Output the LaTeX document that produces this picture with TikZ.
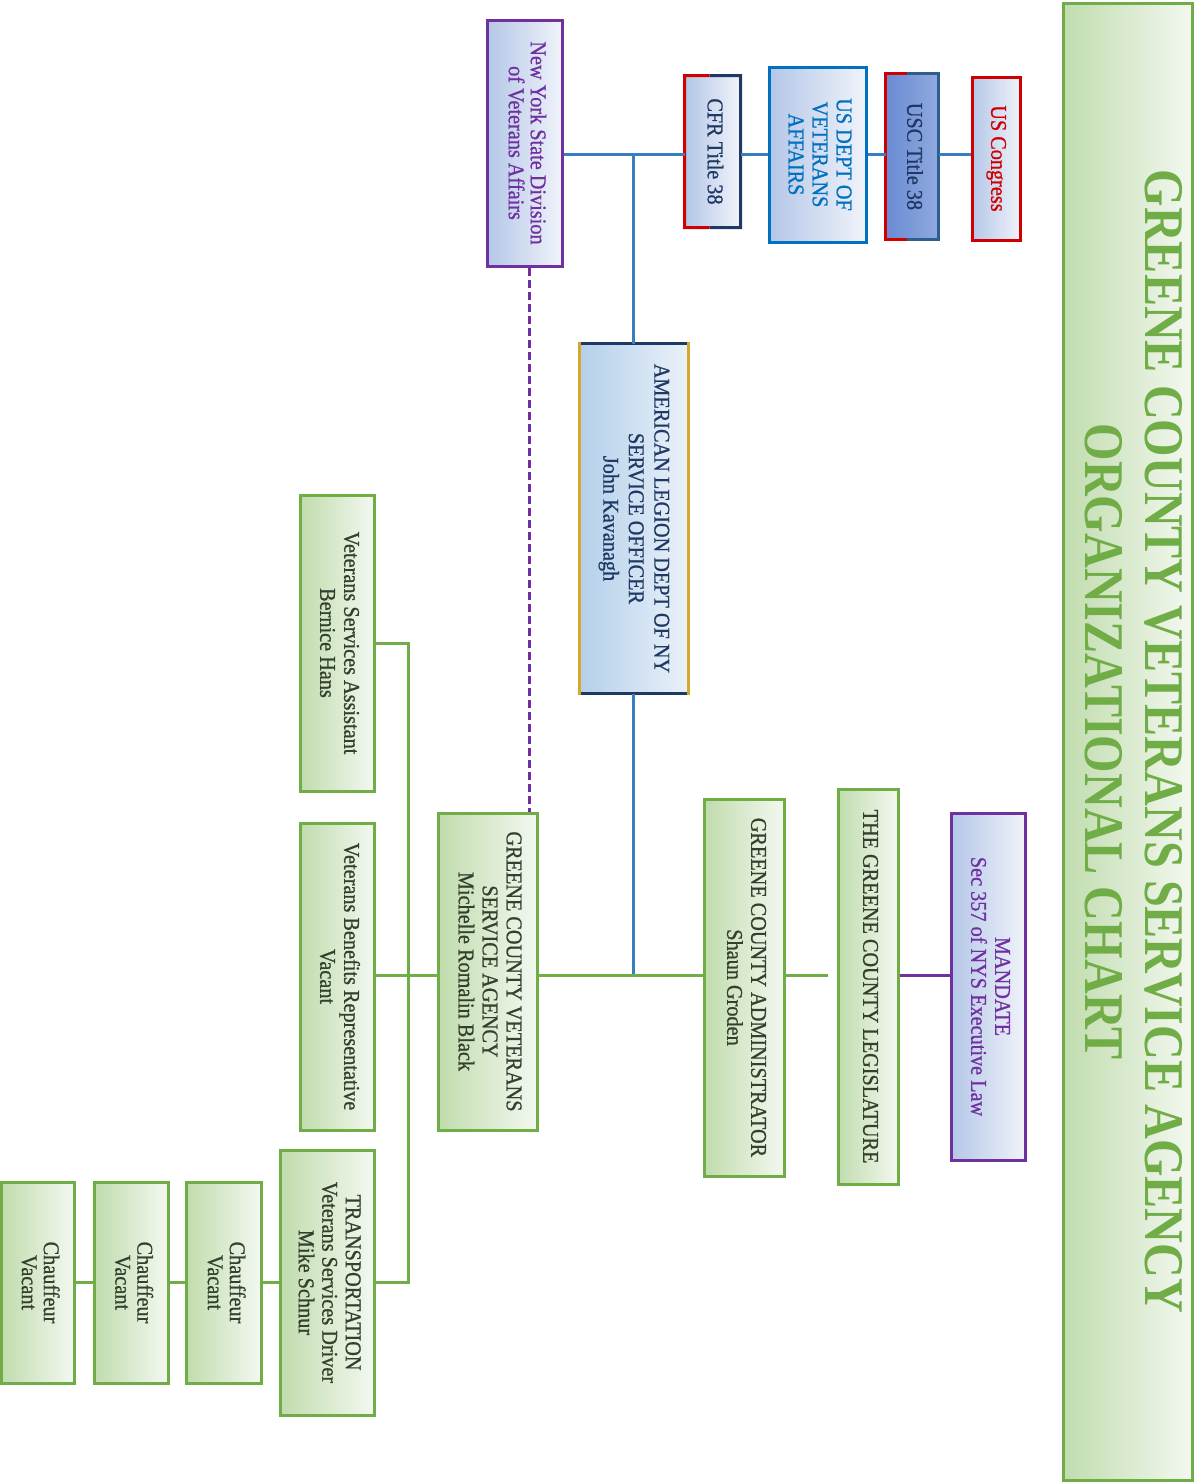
\documentclass[tikz,border=0pt]{standalone}
\usepackage{fontspec}
\newfontfamily\bodyf{Liberation Serif}[FakeStretch=0.9, FakeBold=0.8]
\newfontfamily\titlef{Liberation Serif}[FakeStretch=0.86]
\usetikzlibrary{calc}
\definecolor{grn}{HTML}{70AD47}
\definecolor{gL}{HTML}{C0DCAD}
\definecolor{gR}{HTML}{F3F8F0}
\definecolor{gtxt}{HTML}{34402E}
\definecolor{bL}{HTML}{B4C7E7}
\definecolor{bR}{HTML}{F0F3FA}
\definecolor{pur}{HTML}{7030A0}
\definecolor{redA}{HTML}{D00000}
\definecolor{navy}{HTML}{1F3864}
\definecolor{bluA}{HTML}{0070C0}
\definecolor{conn}{HTML}{3A7EC2}
\definecolor{goldA}{HTML}{D4A82A}
\definecolor{uscL}{HTML}{6A8CD4}
\definecolor{uscR}{HTML}{8FA8DE}
\definecolor{uscB}{HTML}{2D5F8E}
\definecolor{legL}{HTML}{B4D0EA}
\definecolor{legR}{HTML}{EAF1F9}
\newcommand\rt[1]{\rotatebox{-90}{\begin{tabular}{@{}c@{}}#1\end{tabular}}}
\tikzset{
  boxbase/.style={rectangle, inner sep=0pt, line width=3pt,
    font=\bodyf\fontsize{22.5}{24}\selectfont},
  gbox/.style={boxbase, draw=grn, left color=gL, right color=gR, text=gtxt},
  bbox/.style={boxbase, left color=bL, right color=bR},
  gline/.style={draw=grn, line width=3pt},
  bline/.style={draw=conn, line width=3pt},
  pline/.style={draw=pur, line width=3pt},
}
\begin{document}
\begin{tikzpicture}[x=1pt, y=-1pt]
\useasboundingbox (0,0) rectangle (1203,1483);

% title
\node[boxbase, draw=grn, left color=gL, right color=gR, text=grn,
  minimum width=129pt, minimum height=1477pt,
  font=\titlef\bfseries\fontsize{56}{60}\selectfont] (title) at (1127.5,741.5)
  {\rt{GREENE COUNTY VETERANS SERVICE AGENCY\\ORGANIZATIONAL CHART}};

% top row
\node[bbox, draw=pur, text=pur, minimum width=75pt, minimum height=246pt,
  font=\bodyf\fontsize{22.5}{20.5}\selectfont] (nys) at (524.5,143)
  {\rt{New York State Division\\of Veterans Affairs}};
\node[bbox, minimum width=53pt, minimum height=149pt, text=navy] (cfr) at (712.5,151.5)
  {\rt{CFR Title 38}};
\node[bbox, draw=bluA, text=bluA, minimum width=97pt, minimum height=175pt] (usva) at (817.5,154.5)
  {\rt{US DEPT OF\\VETERANS\\AFFAIRS}};
\node[boxbase, left color=uscL, middle color=white, right color=uscR, text=navy,
  minimum width=50pt, minimum height=163pt] (usc) at (912,156.5)
  {\rt{USC Title 38}};
\node[bbox, draw=redA, text=redA, minimum width=48pt, minimum height=163pt] (cong) at (996,158.5)
  {\rt{US Congress}};

% split borders
\draw[redA, line width=3pt] ($(cfr.north west)!0.45!(cfr.north east)$) -- (cfr.north west)
  -- (cfr.south west) -- ($(cfr.south west)!0.45!(cfr.south east)$);
\draw[navy, line width=3pt] ($(cfr.north west)!0.45!(cfr.north east)$) -- (cfr.north east)
  -- (cfr.south east) -- ($(cfr.south west)!0.45!(cfr.south east)$);
\draw[redA, line width=3pt] ($(usc.north west)!0.4!(usc.north east)$) -- (usc.north west)
  -- (usc.south west) -- ($(usc.south west)!0.4!(usc.south east)$);
\draw[uscB, line width=3pt] ($(usc.north west)!0.4!(usc.north east)$) -- (usc.north east)
  -- (usc.south east) -- ($(usc.south west)!0.4!(usc.south east)$);

% American Legion
\node[boxbase, left color=legL, right color=legR, text=navy,
  minimum width=106pt, minimum height=347pt,
  font=\bodyf\fontsize{22.5}{25.5}\selectfont] (legion) at (634,518.5)
  {\rt{AMERICAN LEGION DEPT OF NY\\SERVICE OFFICER\\John Kavanagh}};
\draw[navy, line width=3pt, line cap=rect] (legion.north west) -- (legion.north east);
\draw[navy, line width=3pt, line cap=rect] (legion.south west) -- (legion.south east);
\draw[goldA, line width=3pt, line cap=rect] (legion.north west) -- (legion.south west);
\draw[goldA, line width=3pt, line cap=rect] (legion.north east) -- (legion.south east);

% middle column
\node[bbox, draw=pur, text=pur, minimum width=74pt, minimum height=347pt] (mand) at (988,986.5)
  {\rt{MANDATE\\Sec 357 of NYS Executive Law}};
\node[gbox, minimum width=60pt, minimum height=395pt] (legis) at (868,986.5)
  {\rt{THE GREENE COUNTY LEGISLATURE}};
\node[gbox, minimum width=80pt, minimum height=377pt] (admin) at (744,987.5)
  {\rt{GREENE COUNTY ADMINISTRATOR\\Shaun Groden}};
\node[gbox, minimum width=99pt, minimum height=317pt] (agency) at (487.5,971.5)
  {\rt{GREENE COUNTY VETERANS\\SERVICE AGENCY\\Michelle Romalin Black}};

% staff
\node[gbox, minimum width=74pt, minimum height=296pt] (vsa) at (337,643)
  {\rt{Veterans Services Assistant\\Bernice Hans}};
\node[gbox, minimum width=74pt, minimum height=307pt] (vbr) at (337,976.5)
  {\rt{Veterans Benefits Representative\\Vacant}};
\node[gbox, minimum width=94pt, minimum height=265pt,
  font=\bodyf\fontsize{22.5}{23.5}\selectfont] (trans) at (327,1282.5)
  {\rt{TRANSPORTATION\\Veterans Services Driver\\Mike Schnur}};
\node[gbox, minimum width=75pt, minimum height=201pt,
  font=\bodyf\fontsize{22.5}{22}\selectfont] (ch1) at (223.5,1282.5)
  {\rt{Chauffeur\\Vacant}};
\node[gbox, minimum width=74pt, minimum height=201pt,
  font=\bodyf\fontsize{22.5}{22}\selectfont] (ch2) at (131,1282.5)
  {\rt{Chauffeur\\Vacant}};
\node[gbox, minimum width=73pt, minimum height=201pt,
  font=\bodyf\fontsize{22.5}{22}\selectfont] (ch3) at (37.5,1282.5)
  {\rt{Chauffeur\\Vacant}};

% helper coordinates
\coordinate (topline) at (0,154);
\coordinate (mainline) at (0,975);
\coordinate (jx) at (633,0);
\coordinate (dx) at (529,0);
\coordinate (bus) at (408,0);
\coordinate (gapend) at (828,975);

% top connectors
\draw[bline] (nys.east |- topline) -- (cfr.west |- topline);
\draw[bline] (cfr.east |- topline) -- (usva.west |- topline);
\draw[bline] (usva.east |- topline) -- (usc.west |- topline);
\draw[bline] (usc.east |- topline) -- (cong.west |- topline);
\draw[bline] (jx |- topline) -- (jx |- legion.north);
\draw[bline] (jx |- legion.south) -- (jx |- mainline);

% main line
\draw[pline] (mand.west |- mainline) -- (legis.east |- mainline);
\draw[gline] (gapend) -- (admin.east |- mainline);
\draw[gline] (admin.west |- mainline) -- (agency.east |- mainline);
\draw[pline, dash pattern=on 8pt off 4pt] (dx |- nys.south) -- (dx |- agency.north);

% staff bus
\draw[gline] (agency.west |- mainline) -- (vbr.east |- mainline);
\draw[gline] (vsa.east) -- (bus |- vsa.east) -- (bus |- trans.east) -- (trans.east);
\draw[gline] (trans.west) -- (ch1.east);
\draw[gline] (ch1.west) -- (ch2.east);
\draw[gline] (ch2.west) -- (ch3.east);
\end{tikzpicture}
\end{document}
